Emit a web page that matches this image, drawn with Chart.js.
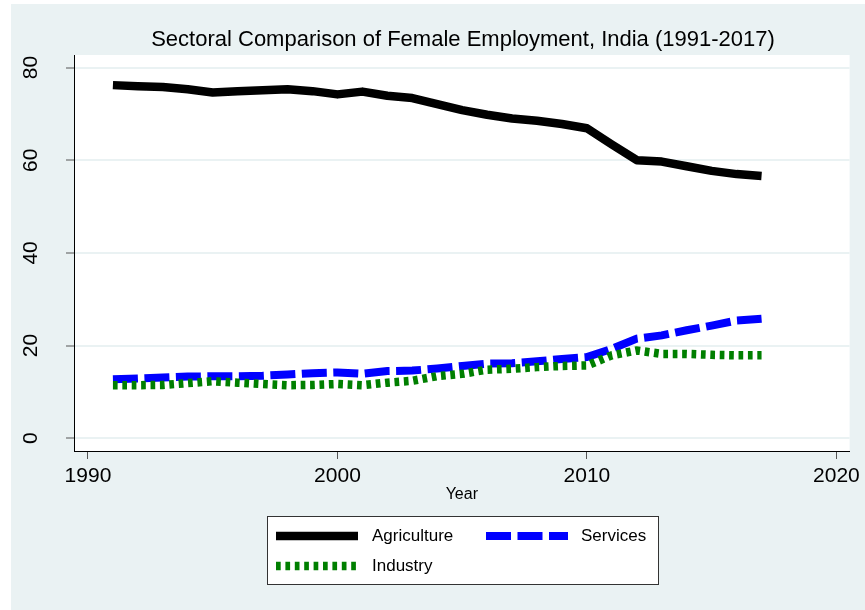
<!DOCTYPE html>
<html>
<head>
<meta charset="utf-8">
<script src="https://cdn.jsdelivr.net/npm/chart.js@4/dist/chart.umd.min.js"></script>
<style>
  html, body { margin: 0; padding: 0; background: #ffffff; }
  #wrap { width: 865px; height: 610px; }
</style>
</head>
<body>
<div id="wrap"><canvas id="c" width="865" height="610"></canvas></div>
<script>
// Female employment share by sector, India (% of female employment)
const years = [1991, 1992, 1993, 1994, 1995, 1996, 1997, 1998, 1999, 2000,
               2001, 2002, 2003, 2004, 2005, 2006, 2007, 2008, 2009, 2010,
               2011, 2012, 2013, 2014, 2015, 2016, 2017];
const agriculture = [76.2, 75.96, 75.8, 75.3, 74.6, 74.9, 75.1, 75.3, 74.9, 74.2,
                     74.8, 73.9, 73.4, 72.1, 70.8, 69.8, 69.0, 68.5, 67.8, 66.9,
                     63.4, 60.0, 59.7, 58.7, 57.7, 57.0, 56.6];
const services = [12.75, 12.9, 13.1, 13.3, 13.4, 13.4, 13.5, 13.75, 14.05, 14.2,
                  13.9, 14.5, 14.6, 15.05, 15.6, 16.1, 16.2, 16.6, 17.1, 17.5,
                  19.3, 21.5, 22.2, 23.3, 24.3, 25.4, 25.8];
const industry = [11.45, 11.45, 11.5, 11.9, 12.3, 12.0, 11.7, 11.45, 11.5, 11.7,
                  11.45, 12.0, 12.4, 13.4, 13.9, 14.8, 15.0, 15.35, 15.6, 15.7,
                  17.9, 18.95, 18.2, 18.2, 18.0, 17.9, 17.9];
const xTicks = [1990, 2000, 2010, 2020];
const yTicks = [0, 20, 40, 60, 80];

const titleText = 'Sectoral Comparison of Female Employment, India (1991-2017)';
const FONT = '"Liberation Sans", Arial, Helvetica, sans-serif';
const BG = '#EAF2F3';

const toPoints = arr => years.map((yr, i) => ({ x: yr, y: arr[i] }));

// Page background, white plot region, title, rotated y labels and the boxed legend
const stataLook = {
  id: 'stataLook',
  beforeDraw(chart) {
    const { ctx, chartArea: a } = chart;
    ctx.save();
    ctx.fillStyle = BG;
    ctx.fillRect(11, 4, chart.width - 11, chart.height - 4);
    ctx.fillStyle = '#ffffff';
    ctx.fillRect(a.left, a.top, a.right - a.left, a.bottom - a.top);
    ctx.restore();
  },
  afterDraw(chart) {
    const { ctx } = chart;
    const ys = chart.scales.y;
    ctx.save();
    // title
    ctx.fillStyle = '#000000';
    ctx.font = '22px ' + FONT;
    ctx.textAlign = 'center';
    ctx.textBaseline = 'middle';
    ctx.fillText(titleText, 463, 40);

    // y tick labels, reading upward
    ctx.font = '21px ' + FONT;
    ys.ticks.forEach(t => {
      const py = ys.getPixelForValue(t.value);
      ctx.save();
      ctx.translate(31, py);
      ctx.rotate(-Math.PI / 2);
      ctx.textAlign = 'center';
      ctx.textBaseline = 'middle';
      ctx.fillText(String(t.value), 0, 0);
      ctx.restore();
    });

    // legend box
    const bx = 267, by = 516, bw = 391, bh = 68;
    ctx.fillStyle = '#ffffff';
    ctx.fillRect(bx, by, bw, bh);
    ctx.strokeStyle = '#333333';
    ctx.lineWidth = 1;
    ctx.strokeRect(bx + 0.5, by + 0.5, bw, bh);

    const slots = [
      { sx: 276, tx: 372, y: 536 },
      { sx: 486, tx: 581, y: 536 },
      { sx: 276, tx: 372, y: 566 }
    ];
    ctx.font = '17px ' + FONT;
    ctx.textAlign = 'left';
    ctx.textBaseline = 'middle';
    chart.data.datasets.forEach((ds, i) => {
      const s = slots[i];
      ctx.save();
      ctx.strokeStyle = ds.borderColor;
      ctx.lineWidth = ds.borderWidth;
      ctx.lineCap = 'butt';
      ctx.setLineDash(ds.borderDash || []);
      ctx.beginPath();
      ctx.moveTo(s.sx, s.y);
      ctx.lineTo(s.sx + 82, s.y);
      ctx.stroke();
      ctx.restore();
      ctx.fillStyle = '#000000';
      ctx.fillText(ds.label, s.tx, s.y);
    });
    ctx.restore();
  }
};

new Chart(document.getElementById('c'), {
  type: 'line',
  data: {
    datasets: [
      {
        label: 'Agriculture',
        data: toPoints(agriculture),
        borderColor: '#000000',
        borderWidth: 8.5,
        borderCapStyle: 'butt',
        borderJoinStyle: 'round',
        order: 2
      },
      {
        label: 'Services',
        data: toPoints(services),
        borderColor: '#0000FF',
        borderWidth: 8,
        borderDash: [25, 6.5],
        borderCapStyle: 'butt',
        borderJoinStyle: 'miter',
        order: 1
      },
      {
        label: 'Industry',
        data: toPoints(industry),
        borderColor: '#007F00',
        borderWidth: 8.5,
        borderDash: [4.7, 4.7],
        borderCapStyle: 'butt',
        borderJoinStyle: 'miter',
        order: 0
      }
    ]
  },
  options: {
    responsive: false,
    animation: false,
    devicePixelRatio: 1,
    layout: { padding: { left: 0, right: 14, top: 55, bottom: 104 } },
    elements: { point: { radius: 0 }, line: { tension: 0, fill: false } },
    plugins: {
      legend: { display: false },
      title: { display: false },
      tooltip: { enabled: false }
    },
    scales: {
      x: {
        type: 'linear',
        min: 1989.44,
        max: 2020.53,
        afterBuildTicks: s => { s.ticks = xTicks.map(v => ({ value: v })); },
        afterFit: s => { s.height = 55; },
        ticks: {
          color: '#000000',
          font: { family: FONT, size: 21 },
          padding: 5,
          maxRotation: 0,
          callback: v => String(v)
        },
        grid: {
          drawOnChartArea: false,
          drawTicks: true,
          tickLength: 8,
          tickColor: '#555555',
          tickWidth: 1
        },
        border: { display: true, color: '#000000', width: 1 },
        title: {
          display: true,
          text: 'Year',
          color: '#000000',
          font: { family: FONT, size: 16 },
          padding: { top: 0, bottom: 2 }
        }
      },
      y: {
        type: 'linear',
        min: -2.75,
        max: 82.7,
        afterBuildTicks: s => { s.ticks = yTicks.map(v => ({ value: v })); },
        afterFit: s => { s.width = 74; },
        ticks: { display: false },
        grid: {
          drawOnChartArea: true,
          color: BG,
          lineWidth: 2,
          drawTicks: true,
          tickLength: 8,
          tickColor: '#555555',
          tickWidth: 1
        },
        border: { display: true, color: '#000000', width: 1 }
      }
    }
  },
  plugins: [stataLook]
});
</script>
</body>
</html>
